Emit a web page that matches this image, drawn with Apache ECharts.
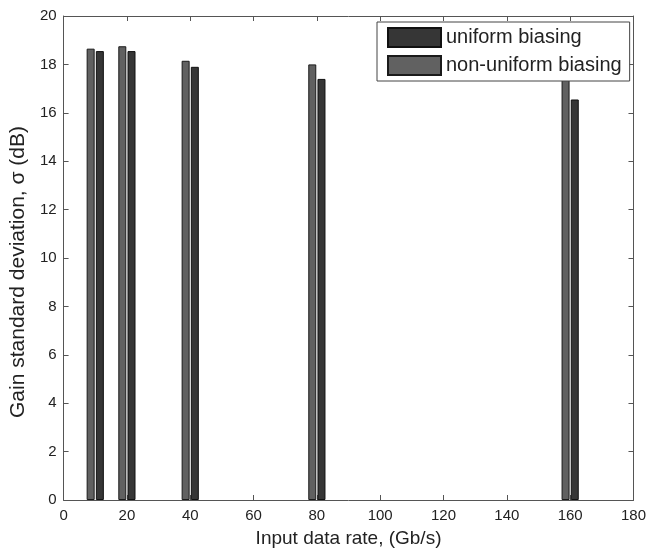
<!DOCTYPE html>
<html>
<head>
<meta charset="utf-8">
<script src="https://cdn.jsdelivr.net/npm/echarts@6/dist/echarts.min.js"></script>
<style>
  html, body { margin: 0; padding: 0; background: #fff; }
  #chart { width: 649px; height: 553px; }
</style>
</head>
<body>
<div id="chart"></div>
<script>
  // input data rates (Gb/s)
  var rates = [10, 20, 40, 80, 160];
  // gain standard deviation (dB)
  var nonUniform = [18.65, 18.75, 18.15, 18.0, 17.9];
  var uniform = [18.55, 18.55, 17.9, 17.4, 16.55];

  var xTicks = [0, 20, 40, 60, 80, 100, 120, 140, 160, 180];
  var yTicks = [0, 2, 4, 6, 8, 10, 12, 14, 16, 18, 20];

  var font = 'Liberation Sans, Arial, sans-serif';
  var lineColor = '#555';

  function pairs(vals) {
    return rates.map(function (r, i) { return [r, vals[i]]; });
  }

  var chart = echarts.init(document.getElementById('chart'));

  var baseX = {
    type: 'value',
    min: xTicks[0],
    max: xTicks[xTicks.length - 1],
    interval: 20,
    splitLine: { show: false },
    axisLine: { show: true, onZero: false, lineStyle: { color: lineColor, width: 1 } },
    axisTick: { show: true, inside: true, length: 5, lineStyle: { color: lineColor } }
  };
  var baseY = {
    type: 'value',
    min: yTicks[0],
    max: yTicks[yTicks.length - 1],
    interval: 2,
    splitLine: { show: false },
    axisLine: { show: true, onZero: false, lineStyle: { color: lineColor, width: 1 } },
    axisTick: { show: true, inside: true, length: 5, lineStyle: { color: lineColor } }
  };

  var option = {
    backgroundColor: '#fff',
    animation: false,
    grid: { left: 63, right: 15, top: 16, bottom: 51 },
    legend: {
      orient: 'vertical',
      left: 377,
      top: 22,
      padding: [5, 8, 5, 10],
      itemGap: 7,
      itemWidth: 53,
      itemHeight: 19,
      backgroundColor: '#fff',
      borderColor: '#444',
      borderWidth: 1,
      borderRadius: 0,
      data: [
        { name: 'uniform biasing', icon: 'rect' },
        { name: 'non-uniform biasing', icon: 'rect' }
      ],
      textStyle: { fontFamily: font, fontSize: 20, color: '#222' }
    },
    xAxis: [
      Object.assign({}, baseX, {
        position: 'bottom',
        name: 'Input data rate, (Gb/s)',
        nameLocation: 'middle',
        nameGap: 29,
        nameTextStyle: { fontFamily: font, fontSize: 19, color: '#222' },
        axisLabel: { fontFamily: font, fontSize: 15, color: '#222', margin: 8 }
      }),
      Object.assign({}, baseX, { position: 'top', axisLabel: { show: false } })
    ],
    yAxis: [
      Object.assign({}, baseY, {
        position: 'left',
        name: 'Gain standard deviation, σ (dB)',
        nameLocation: 'middle',
        nameGap: 32,
        nameTextStyle: { fontFamily: font, fontSize: 21, color: '#222', padding: [0, 28, 0, 0] },
        axisLabel: { fontFamily: font, fontSize: 15, color: '#222', margin: 7 }
      }),
      Object.assign({}, baseY, { position: 'right', axisLabel: { show: false } })
    ],
    series: [
      {
        name: 'non-uniform biasing',
        type: 'bar',
        xAxisIndex: 0,
        yAxisIndex: 0,
        barWidth: 8,
        barGap: '15%',
        itemStyle: { color: '#616161', borderColor: '#1a1a1a', borderWidth: 1 },
        data: pairs(nonUniform)
      },
      {
        name: 'uniform biasing',
        type: 'bar',
        xAxisIndex: 0,
        yAxisIndex: 0,
        barWidth: 8,
        barGap: '15%',
        itemStyle: { color: '#363636', borderColor: '#111', borderWidth: 1 },
        data: pairs(uniform)
      }
    ]
  };

  chart.setOption(option);
</script>
</body>
</html>
